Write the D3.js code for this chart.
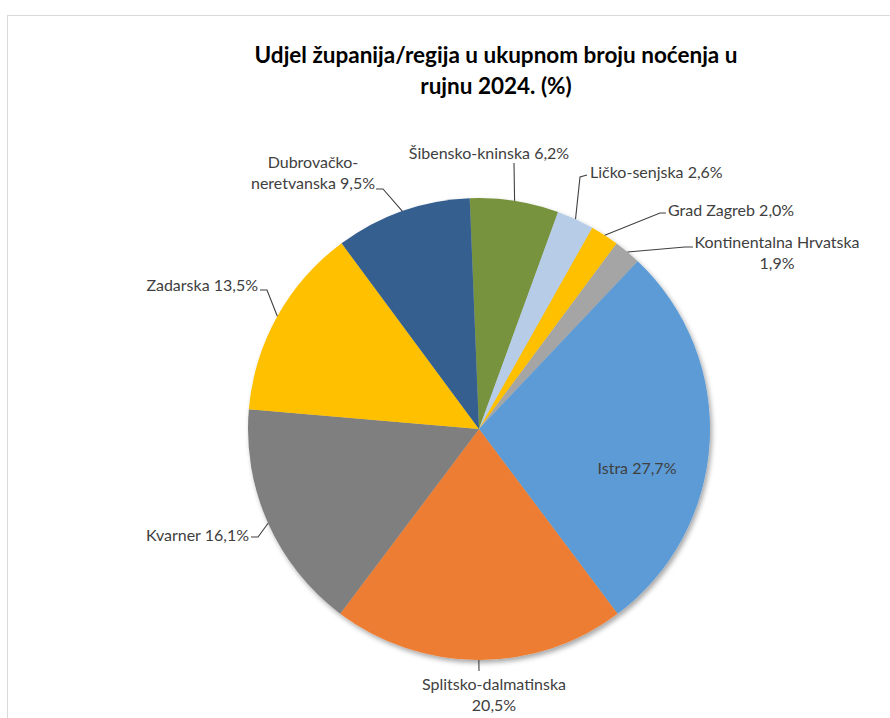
<!DOCTYPE html>
<html>
<head>
<meta charset="utf-8">
<script src="https://cdn.jsdelivr.net/npm/d3@7"></script>
<style>
  html, body { margin: 0; padding: 0; background: #fff; }
  svg { display: block; }
  text { font-family: Lato, "Open Sans", sans-serif; }
</style>
</head>
<body>
<svg id="chart" width="890" height="718"></svg>
<script>
// ---- Data ----
const categories = [
  "Šibensko-kninska", "Ličko-senjska", "Grad Zagreb", "Kontinentalna Hrvatska",
  "Istra", "Splitsko-dalmatinska", "Kvarner", "Zadarska", "Dubrovačko-neretvanska"
];
const values = [6.2, 2.6, 2.0, 1.9, 27.7, 20.5, 16.1, 13.5, 9.5];
const valueLabels = ["6,2%", "2,6%", "2,0%", "1,9%", "27,7%", "20,5%", "16,1%", "13,5%", "9,5%"];
const colors = ["#77933C", "#B7CCE6", "#FFC000", "#A5A5A5", "#5B9BD5", "#ED7D31", "#7F7F7F", "#FFC000", "#365F8F"];
const titleLines = ["Udjel županija/regija u ukupnom broju noćenja u", "rujnu 2024. (%)"];

// ---- Label layout (positions only) ----
const labelLayout = [
  { lines: ["Šibensko-kninska 6,2%"], anchor: "middle", x: 489, y: 159, leader: [[514, 163]] },
  { lines: ["Ličko-senjska 2,6%"], anchor: "start", x: 590, y: 178, leader: [[580, 177], [587, 175]] },
  { lines: ["Grad Zagreb  2,0%"], anchor: "start", x: 668, y: 216, leader: [[660, 213], [666, 213]] },
  { lines: ["Kontinentalna Hrvatska", "1,9%"], anchor: "middle", x: 777, y: 248, leader: [[685, 247], [693, 247]] },
  { lines: ["Istra 27,7%"], anchor: "middle", x: 637, y: 474, leader: null },
  { lines: ["Splitsko-dalmatinska", "20,5%"], anchor: "middle", x: 494, y: 690, leader: [[479, 671]] },
  { lines: ["Kvarner 16,1%"], anchor: "end", x: 249, y: 541, leader: [[258, 537], [251, 537]] },
  { lines: ["Zadarska 13,5%"], anchor: "end", x: 258, y: 291, leader: [[267, 290], [260, 290]] },
  { lines: ["Dubrovačko-", "neretvanska 9,5%"], anchor: "middle", x: 313, y: 168, leader: [[383, 189], [376, 189]] }
];

const svg = d3.select("#chart");
const cx = 479, cy = 429, R = 231;
const startDeg = -2.3;

// chart border
svg.append("rect").attr("x", 7.5).attr("y", 15.5).attr("width", 900).attr("height", 720)
  .attr("fill", "#fff").attr("stroke", "#D9D9D9").attr("stroke-width", 1);

// title
const title = svg.append("text").attr("text-anchor", "middle")
  .attr("font-weight", "bold").attr("font-size", 22.5).attr("fill", "#000");
titleLines.forEach((t, i) => {
  title.append("tspan").attr("x", 496).attr("y", 63 + i * 31).text(t);
});

const defs = svg.append("defs");
const f = defs.append("filter").attr("id", "shadow").attr("x", "-10%").attr("y", "-10%")
  .attr("width", "130%").attr("height", "130%");
f.append("feDropShadow").attr("dx", 2).attr("dy", 3).attr("stdDeviation", 2.5)
  .attr("flood-color", "#000").attr("flood-opacity", 0.35);

const pie = d3.pie().sort(null).value(d => d)
  .startAngle(startDeg * Math.PI / 180)
  .endAngle((startDeg + 360) * Math.PI / 180);
const arcs = pie(values);
const arc = d3.arc().innerRadius(0).outerRadius(R);

const g = svg.append("g").attr("transform", `translate(${cx},${cy})`);
g.append("g").attr("filter", "url(#shadow)")
  .selectAll("path").data(arcs).join("path")
  .attr("d", arc)
  .attr("fill", (d, i) => colors[i]);

// leaders
const line = d3.line();
arcs.forEach((a, i) => {
  const L = labelLayout[i];
  if (!L.leader) return;
  const mid = (a.startAngle + a.endAngle) / 2;
  const p0 = [cx + R * Math.sin(mid), cy - R * Math.cos(mid)];
  svg.append("path").attr("d", line([p0, ...L.leader]))
    .attr("fill", "none").attr("stroke", "#404040").attr("stroke-width", 1.1);
});

// labels
arcs.forEach((a, i) => {
  const L = labelLayout[i];
  const t = svg.append("text").attr("text-anchor", L.anchor)
    .attr("font-size", 16).attr("fill", "#404040");
  L.lines.forEach((s, j) => {
    t.append("tspan").attr("x", L.x).attr("y", L.y + j * 21).text(s);
  });
});
</script>
</body>
</html>
